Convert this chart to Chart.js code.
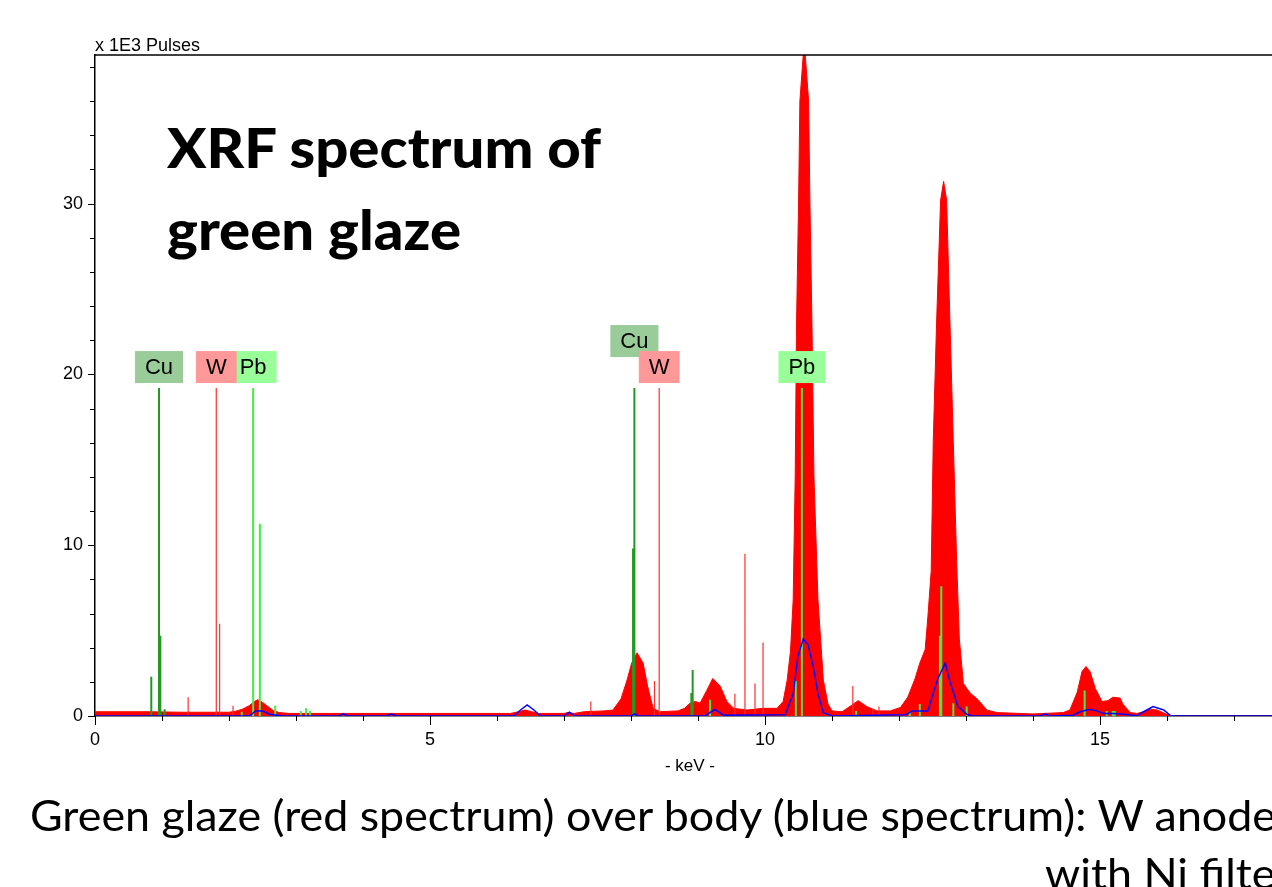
<!DOCTYPE html>
<html>
<head>
<meta charset="utf-8">
<script src="https://cdn.jsdelivr.net/npm/chart.js"></script>
<style>
  html, body { margin: 0; padding: 0; background: #fff; overflow: hidden; }
  #wrap { position: relative; width: 1272px; height: 887px; overflow: hidden; }
  #spec { position: absolute; left: 0; top: 0; }
  .txt { position: absolute; white-space: nowrap; color: #000; transform-origin: 0 0; }
  #units { left: 95px; top: 35px; font: 18px "Liberation Sans", Arial, sans-serif; line-height: 20px; }
  .title { left: 167px; font: 900 56px Lato, sans-serif; line-height: 1.2; }
  .caption { font: 42px Lato, sans-serif; line-height: 1.2; }
</style>
</head>
<body>
<div id="wrap">
  <canvas id="spec" width="1298" height="887"></canvas>
  <div class="txt" id="units">x 1E3 Pulses</div>
  <div class="txt title" id="t1" style="top:113px">XRF spectrum of</div>
  <div class="txt title" id="t2" style="top:195px">green glaze</div>
  <div class="txt caption" id="c1" style="left:30px; top:790px">Green glaze (red spectrum) over body (blue spectrum): W anode</div>
  <div class="txt caption" id="c2" style="left:1045px; top:848px">with Ni filter</div>
</div>
<script>
// glaze spectrum (red), keV vs x1000 pulses
const redKeV = [0.00, 0.80, 1.30, 2.00, 2.10, 2.20, 2.30, 2.38, 2.43, 2.50, 2.58, 2.66, 2.75, 2.90, 3.50, 5.00,
  6.20, 6.32, 6.42, 6.52, 6.62, 7.00, 7.05, 7.15, 7.30, 7.60, 7.73, 7.85, 7.94, 8.01, 8.09, 8.18, 8.25, 8.33, 8.43,
  8.70, 8.80, 8.88, 8.96, 9.03, 9.13, 9.22, 9.33, 9.43, 9.53, 9.73, 9.97, 10.18, 10.27, 10.33, 10.38, 10.42, 10.45,
  10.47, 10.50, 10.52, 10.585, 10.65, 10.67, 10.70, 10.73, 10.79, 10.87, 10.94, 11.00, 11.15, 11.30, 11.39, 11.52,
  11.67, 11.87, 12.02, 12.13, 12.24, 12.31, 12.39, 12.43, 12.48, 12.51, 12.56, 12.62, 12.665, 12.71, 12.76, 12.81,
  12.86, 12.90, 12.96, 13.06, 13.18, 13.31, 13.46, 14.00, 14.45, 14.55, 14.66, 14.73, 14.79, 14.85, 14.93, 15.03,
  15.12, 15.19, 15.30, 15.34, 15.45, 15.55, 15.65, 15.75, 15.85, 15.94, 16.05, 17.80];
const redCounts = [0.25, 0.25, 0.22, 0.22, 0.28, 0.40, 0.60, 0.85, 0.95, 0.80, 0.55, 0.32, 0.20, 0.15, 0.15, 0.15,
  0.15, 0.25, 0.35, 0.25, 0.15, 0.15, 0.20, 0.15, 0.25, 0.30, 0.35, 1.00, 2.10, 3.10, 3.70, 3.10, 1.70, 0.45, 0.25,
  0.30, 0.45, 0.75, 0.85, 0.75, 1.50, 2.20, 1.75, 0.85, 0.45, 0.35, 0.45, 0.45, 0.85, 2.10, 3.80, 6.80, 14.0,
  23.0, 30.0, 36.0, 39.5, 36.0, 30.0, 23.0, 14.0, 6.80, 2.10, 0.70, 0.30, 0.25, 0.65, 0.90, 0.55,
  0.30, 0.30, 0.50, 1.10, 2.20, 3.10, 3.90, 5.80, 8.50, 16.0, 23.0, 30.2, 31.3, 30.2, 23.0, 16.0,
  9.00, 4.50, 1.90, 1.35, 0.95, 0.35, 0.20, 0.12, 0.20, 0.35, 1.40, 2.60, 2.90, 2.60, 1.60, 0.85,
  0.90, 1.10, 1.05, 0.70, 0.20, 0.15, 0.25, 0.40, 0.35, 0.20, 0.00, 0.00];

// body spectrum (blue)
const blueKeV = [0.00, 2.30, 2.40, 2.50, 2.60, 2.80, 3.65, 3.70, 3.78, 4.35, 4.42, 4.50, 6.25, 6.35, 6.45, 6.55, 6.65,
  7.00, 7.08, 7.16, 8.00, 8.05, 8.12, 9.10, 9.25, 9.38, 10.30, 10.42, 10.49, 10.57, 10.64, 10.72, 10.79, 10.87, 11.00,
  12.10, 12.20, 12.43, 12.51, 12.58, 12.69, 12.76, 12.88, 13.01, 13.10, 14.10, 14.18, 14.26, 14.60, 14.70, 14.85,
  14.95, 15.05, 15.20, 15.35, 15.55, 15.65, 15.79, 15.95, 16.05, 17.80];
const blueCounts = [0.00, 0.00, 0.30, 0.30, 0.10, 0.00, 0.00, 0.12, 0.00, 0.00, 0.12, 0.00, 0.00, 0.35, 0.65, 0.35, 0.00,
  0.00, 0.22, 0.00, 0.00, 0.12, 0.00, 0.00, 0.38, 0.05, 0.08, 1.30, 3.50, 4.50, 4.20, 2.90, 1.30, 0.20, 0.00,
  0.08, 0.30, 0.30, 1.35, 2.20, 3.10, 2.00, 0.55, 0.10, 0.00, 0.00, 0.12, 0.00, 0.05, 0.25, 0.40,
  0.30, 0.15, 0.15, 0.10, 0.02, 0.25, 0.55, 0.35, 0.02, 0.00];

// element line markers
const cuKeV = [0.84, 0.955, 0.975, 1.04, 8.03, 8.05, 8.90, 8.92];
const cuCounts = [2.3, 19.2, 4.7, 0.4, 9.8, 19.2, 1.35, 2.7];
const wKeV = [1.39, 1.81, 1.86, 2.06, 7.40, 8.35, 8.42, 9.55, 9.70, 9.85, 9.97, 11.31, 11.61, 11.70];
const wCounts = [1.1, 19.2, 5.4, 0.6, 0.85, 2.05, 19.2, 1.3, 9.5, 1.9, 4.3, 1.75, 0.4, 0.55];
const pbKeV = [2.19, 2.36, 2.46, 2.69, 3.07, 3.15, 3.21, 9.18, 10.46, 10.55, 11.36, 12.16, 12.31, 12.61, 12.63,
  12.81, 13.01, 14.77, 15.10, 15.19, 15.22];
const pbCounts = [0.25, 19.2, 11.25, 0.6, 0.3, 0.45, 0.3, 0.95, 2.05, 19.2, 0.3, 0.25, 0.7, 4.7, 7.6,
  0.75, 0.55, 1.5, 0.3, 0.3, 0.3];

// labels (drawn in this order: W last so it sits on top)
const labelNames = ['Pb', 'Pb', 'Cu', 'Cu', 'W', 'W'];
const labelKeV = [2.36, 10.55, 0.955, 8.05, 1.81, 8.42];
const labelLevel = 19.2;

const labelColors = { Cu: '#99cc99', W: '#ff9999', Pb: '#99ff99' };

function pts(xs, ys) {
  return xs.map((x, i) => ({ x: x, y: ys[i] }));
}
function sticks(xs, ys) {
  const out = [];
  xs.forEach((x, i) => {
    out.push({ x: x, y: 0 }, { x: x, y: ys[i] }, { x: x, y: null });
  });
  return out;
}

const decor = {
  id: 'decor',
  afterDatasetsDraw(chart) {
    const { ctx, chartArea: a, scales: { x, y } } = chart;
    ctx.save();
    ctx.strokeStyle = '#000';
    ctx.lineWidth = 1.5;
    ctx.beginPath();
    ctx.moveTo(a.left, a.top);
    ctx.lineTo(a.right, a.top);
    ctx.stroke();

    // ticks
    ctx.lineWidth = 1;
    ctx.beginPath();
    for (let v = 0; v <= Math.floor(x.max); v++) {
      const px = Math.round(x.getPixelForValue(v)) + 0.5;
      ctx.moveTo(px, a.bottom);
      ctx.lineTo(px, a.bottom + (v % 5 === 0 ? 9 : 5));
    }
    for (let v = 0; v <= y.max; v += 2) {
      const py = Math.round(y.getPixelForValue(v)) + 0.5;
      ctx.moveTo(a.left, py);
      ctx.lineTo(a.left - (v % 10 === 0 ? 7 : 5), py);
    }
    ctx.stroke();

    // element labels
    ctx.font = '22px "Liberation Sans", Arial, sans-serif';
    const base = y.getPixelForValue(labelLevel) - 5;
    const boxes = labelNames.map((name, i) => {
      const w = ctx.measureText(name).width + 20;
      const cx = x.getPixelForValue(labelKeV[i]);
      return { name: name, cx: cx, w: w, l: cx - w / 2, r: cx + w / 2, bottom: base };
    });
    boxes.forEach(b => {
      const clash = boxes.some(o => o !== b && o.cx > b.cx && b.r - o.l > 12);
      if (clash) b.bottom -= 26;
    });
    ctx.textAlign = 'center';
    ctx.textBaseline = 'middle';
    boxes.forEach(b => {
      ctx.fillStyle = labelColors[b.name];
      ctx.fillRect(b.l, b.bottom - 32, b.w, 32);
      ctx.fillStyle = '#000';
      ctx.fillText(b.name, b.cx, b.bottom - 15);
    });
    ctx.restore();
  }
};

const tickFont = { family: '"Liberation Sans", Arial, sans-serif', size: 18 };

new Chart(document.getElementById('spec'), {
  type: 'line',
  data: {
    datasets: [
      { label: 'body', data: pts(blueKeV, blueCounts), borderColor: '#0000ff', borderWidth: 1.5,
        pointRadius: 0, fill: false, order: 1 },
      { label: 'Cu', data: sticks(cuKeV, cuCounts), borderColor: '#229922', borderWidth: 2,
        pointRadius: 0, spanGaps: false, order: 2 },
      { label: 'W', data: sticks(wKeV, wCounts), borderColor: '#ff3030', borderWidth: 1.2,
        pointRadius: 0, spanGaps: false, order: 2 },
      { label: 'Pb', data: sticks(pbKeV, pbCounts), borderColor: '#40f040', borderWidth: 2,
        pointRadius: 0, spanGaps: false, order: 2 },
      { label: 'glaze', data: pts(redKeV, redCounts), borderColor: '#ff0000', backgroundColor: '#ff0000',
        borderWidth: 1, fill: 'origin', pointRadius: 0, order: 5 }
    ]
  },
  options: {
    responsive: false,
    animation: false,
    events: [],
    layout: { padding: { top: 55, right: 5, left: 0, bottom: 106 } },
    plugins: { legend: { display: false }, tooltip: { enabled: false } },
    elements: { line: { tension: 0 } },
    scales: {
      x: {
        type: 'linear', min: 0, max: 17.76,
        grid: { display: false, drawTicks: false },
        border: { display: true, color: '#000', width: 1.5 },
        ticks: { stepSize: 1, autoSkip: false, maxRotation: 0, padding: 13, color: '#000', font: tickFont,
          callback: v => (v % 5 === 0 ? v : '') },
        title: { display: true, text: '- keV -', color: '#000', padding: { top: 0, bottom: 4 },
          font: { family: '"Liberation Sans", Arial, sans-serif', size: 17 } },
        afterFit: s => { s.height = 65; }
      },
      y: {
        min: 0, max: 38.7,
        grid: { display: false, drawTicks: false },
        border: { display: true, color: '#000', width: 1.5 },
        ticks: { stepSize: 2, autoSkip: false, padding: 12, color: '#000', font: tickFont,
          callback: v => (v % 10 === 0 ? v : '') },
        afterFit: s => { s.width = 95; }
      }
    }
  },
  plugins: [decor]
});

// squeeze the slide text to the widths seen in the picture
function fitWidth(ids, target) {
  const w = document.getElementById(ids[0]).getBoundingClientRect().width;
  const k = target / w;
  ids.forEach(id => { document.getElementById(id).style.transform = 'scaleX(' + k + ')'; });
}
fitWidth(['t1', 't2'], 434);
fitWidth(['c1', 'c2'], 1246);
</script>
</body>
</html>
